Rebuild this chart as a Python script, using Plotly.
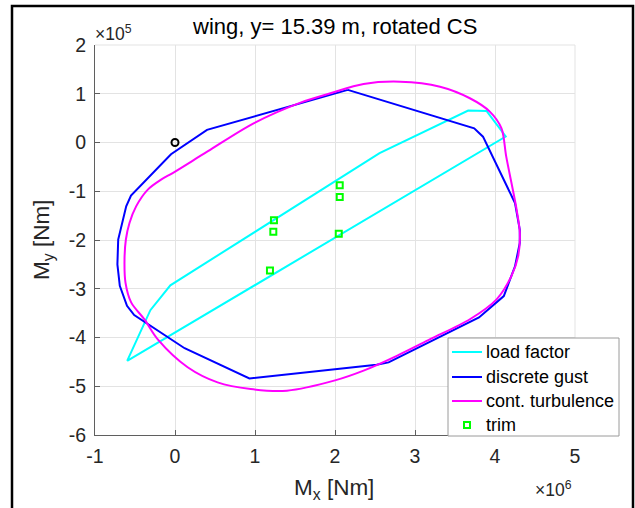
import plotly.graph_objects as go

# Section loads at wing station y = 15.39 m (rotated coordinate system)
# Mx in units of 1e6 Nm, My in units of 1e5 Nm
load_factor_mx = [-0.598, -0.308, -0.058, 2.557, 3.665, 3.894, 4.134, -0.598]
load_factor_my = [-4.48, -3.44, -2.93, -0.217, 0.654, 0.648, 0.123, -4.48]

gust_mx = [2.16, 3.74, 3.85, 4.25, 4.31, 4.31, 4.25, 4.11, 3.80, 2.67, 2.52,
           0.93, 0.12, -0.51, -0.60, -0.69, -0.72, -0.71, -0.61, -0.55, -0.05,
           0.40, 2.16]
gust_my = [1.08, 0.29, 0.12, -1.24, -1.79, -2.06, -2.54, -3.15, -3.59, -4.51,
           -4.56, -4.84, -4.22, -3.54, -3.35, -2.94, -2.50, -1.99, -1.31, -1.09,
           -0.24, 0.26, 1.08]

turb_mx = [-0.631, -0.614, -0.569, -0.486, -0.34, -0.174, -0.029, 0.407, 0.988,
           1.569, 1.943, 2.357, 2.814, 3.313, 3.686, 3.935, 4.08, 4.14, 4.27,
           4.31, 4.29, 4.205, 4.02, 3.686, 3.19, 2.773, 2.357, 2.0, 1.40, 0.946,
           0.532, 0.158, -0.21, -0.382, -0.548, -0.619, -0.631]
turb_my = [-2.40, -1.99, -1.65, -1.31, -0.967, -0.763, -0.626, -0.184, 0.397,
           0.818, 1.01, 1.20, 1.247, 1.145, 0.908, 0.634, 0.294, -0.286, -1.376,
           -1.853, -2.33, -2.74, -3.217, -3.626, -4.035, -4.376, -4.68, -4.88,
           -5.09, -5.057, -4.92, -4.61, -4.05, -3.63, -3.28, -2.875, -2.40]

trim_mx = [1.237, 1.229, 1.187, 2.059, 2.059, 2.047]
trim_my = [-1.595, -1.833, -2.624, -0.879, -1.117, -1.874]

origin_mx = [0.0]
origin_my = [0.0]

x_ticks = [-1, 0, 1, 2, 3, 4, 5]
x_tick_labels = ["-1", "0", "1", "2", "3", "4", "5"]
y_ticks = [-6, -5, -4, -3, -2, -1, 0, 1, 2]
y_tick_labels = ["-6", "-5", "-4", "-3", "-2", "-1", "0", "1", "2"]

legend_names = ["load factor", "discrete gust", "cont. turbulence", "trim"]

CYAN = "#00FFFF"
BLUE = "#0000FF"
MAGENTA = "#FF00FF"
GREEN = "#00FF00"
FONT = "Liberation Sans, Arial, Helvetica, sans-serif"
TXT = "#262626"

W, H = 635, 508
ML, MR, MT, MB = 95, 60, 45, 73
PW, PH = W - ML - MR, H - MT - MB


def px(xp):
    return (xp - ML) / PW


def py(yp):
    return (H - MB - yp) / PH


fig = go.Figure()
fig.add_trace(go.Scatter(x=load_factor_mx, y=load_factor_my, mode="lines",
                         line=dict(color=CYAN, width=2), showlegend=False))
fig.add_trace(go.Scatter(x=gust_mx, y=gust_my, mode="lines",
                         line=dict(color=BLUE, width=2), showlegend=False))
fig.add_trace(go.Scatter(x=turb_mx, y=turb_my, mode="lines",
                         line=dict(color=MAGENTA, width=2, shape="spline", smoothing=0.9),
                         showlegend=False))
fig.add_trace(go.Scatter(x=trim_mx, y=trim_my, mode="markers",
                         marker=dict(symbol="square-open", size=6, color=GREEN,
                                     line=dict(color=GREEN, width=2)),
                         showlegend=False))
fig.add_trace(go.Scatter(x=origin_mx, y=origin_my, mode="markers",
                         marker=dict(symbol="circle-open", size=7, color="black",
                                     line=dict(color="black", width=2)),
                         showlegend=False))

axis_common = dict(
    showgrid=True, gridcolor="#e3e3e3", gridwidth=1,
    zeroline=False, showline=True, linecolor="#5f5f5f", linewidth=1,
    ticks="inside", ticklen=5, tickcolor="#5f5f5f", tickwidth=1,
    tickfont=dict(family=FONT, size=19.5, color=TXT),
    mirror=False, fixedrange=True,
)
fig.update_xaxes(range=[-1, 5], tickmode="array", tickvals=x_ticks,
                 ticktext=x_tick_labels, ticklabelstandoff=4, **axis_common)
fig.update_yaxes(range=[-6, 2], tickmode="array", tickvals=y_ticks,
                 ticktext=y_tick_labels, ticklabelstandoff=4, **axis_common)

shapes = []
# light top/right box edges
shapes.append(dict(type="line", xref="paper", yref="paper", x0=0, x1=1, y0=1, y1=1,
                   line=dict(color="#e3e3e3", width=1), layer="below"))
shapes.append(dict(type="line", xref="paper", yref="paper", x0=1, x1=1, y0=0, y1=1,
                   line=dict(color="#e3e3e3", width=1), layer="below"))
# figure frame
shapes.append(dict(type="rect", xref="paper", yref="paper",
                   x0=px(12), x1=px(633), y0=py(530), y1=py(6),
                   line=dict(color="black", width=2.5), fillcolor="rgba(0,0,0,0)"))

# legend box
lx0, lx1, ly0, ly1 = 448, 619, 338, 436
shapes.append(dict(type="rect", xref="paper", yref="paper",
                   x0=px(lx0), x1=px(lx1), y0=py(ly1), y1=py(ly0),
                   line=dict(color="#9a9a9a", width=1), fillcolor="white", layer="above"))
row_y = [352, 377, 401, 425]
line_colors = [CYAN, BLUE, MAGENTA]
for c, ry in zip(line_colors, row_y[:3]):
    shapes.append(dict(type="line", xref="paper", yref="paper",
                       x0=px(452), x1=px(482), y0=py(ry), y1=py(ry),
                       line=dict(color=c, width=2), layer="above"))
shapes.append(dict(type="rect", xref="paper", yref="paper",
                   x0=px(464), x1=px(470), y0=py(row_y[3] + 3), y1=py(row_y[3] - 3),
                   line=dict(color=GREEN, width=2), fillcolor="rgba(0,0,0,0)", layer="above"))

annotations = []
for name, ry in zip(legend_names, row_y):
    annotations.append(dict(text=name, xref="paper", yref="paper", x=px(484), y=py(ry),
                            xanchor="left", yanchor="middle", showarrow=False,
                            font=dict(family=FONT, size=18, color="black")))

annotations.append(dict(text="wing, y= 15.39 m, rotated CS", xref="paper", yref="paper",
                        x=px(334), y=py(27), xanchor="center", yanchor="middle",
                        showarrow=False, font=dict(family=FONT, size=22, color="black")))
annotations.append(dict(text="M<sub>x</sub> [Nm]", xref="paper", yref="paper",
                        x=px(334), y=py(489), xanchor="center", yanchor="middle",
                        showarrow=False, font=dict(family=FONT, size=22.5, color=TXT)))
annotations.append(dict(text="M<sub>y</sub> [Nm]", xref="paper", yref="paper",
                        x=px(43), y=py(240), xanchor="center", yanchor="middle",
                        textangle=-90, showarrow=False,
                        font=dict(family=FONT, size=22.5, color=TXT)))
annotations.append(dict(text="×10<sup>5</sup>", xref="paper", yref="paper",
                        x=px(93), y=py(33), xanchor="left", yanchor="middle",
                        showarrow=False, font=dict(family=FONT, size=17.5, color=TXT)))
annotations.append(dict(text="×10<sup>6</sup>", xref="paper", yref="paper",
                        x=px(553), y=py(489), xanchor="center", yanchor="middle",
                        showarrow=False, font=dict(family=FONT, size=17.5, color=TXT)))

fig.update_layout(
    width=W, height=H,
    margin=dict(l=ML, r=MR, t=MT, b=MB, pad=0),
    paper_bgcolor="white", plot_bgcolor="white",
    showlegend=False,
    shapes=shapes, annotations=annotations,
)

fig.write_html("out.html", config={"displayModeBar": False})
